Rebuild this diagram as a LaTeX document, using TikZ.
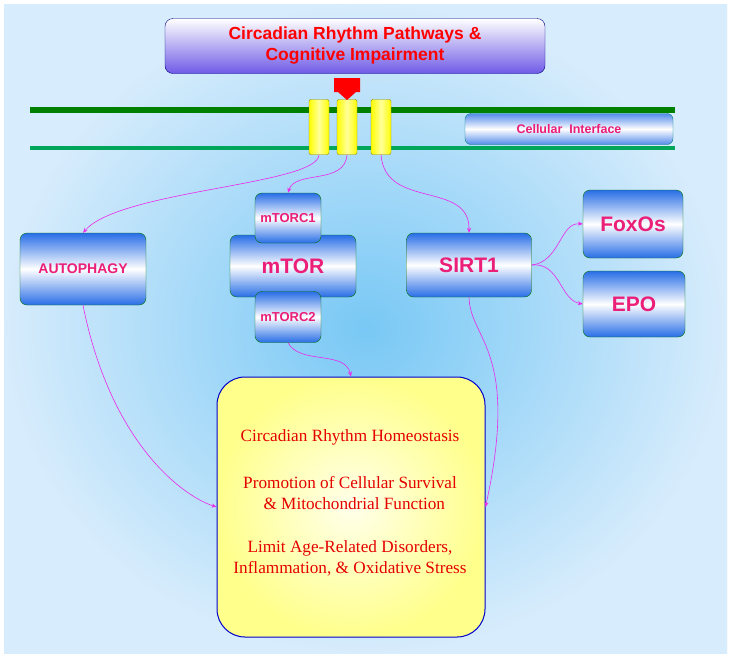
\documentclass[tikz,border=0pt]{standalone}
\usepackage{fontspec}
\setmainfont{Liberation Serif}
\newfontfamily\sansbf{Liberation Sans}
\usetikzlibrary{positioning,arrows.meta}
\definecolor{pinktxt}{RGB}{235,30,120}
\definecolor{boxblue}{RGB}{40,110,230}
\definecolor{linkmag}{RGB}{235,40,235}
\tikzset{
  blob/.style={draw=green!45!black,rounded corners=7pt,top color=boxblue,bottom color=boxblue,middle color=white,
    font=\sansbf\bfseries,text=pinktxt,align=center,inner sep=0pt},
  chan/.style={draw=olive,left color=yellow,right color=yellow,middle color=yellow!40!white,rounded corners=2pt,minimum width=20pt,minimum height=55pt,inner sep=0pt},
  link/.style={linkmag,-{Stealth[length=5pt,width=4pt]},line width=0.6pt},
  res/.style={text=red!90!black,font=\fontsize{17.2}{21}\selectfont,align=center}
}
\begin{document}
\begin{tikzpicture}[x=1pt,y=-1pt]
	\useasboundingbox (0,0) rectangle (731,657);
	\fill[white] (0,0) rectangle (731,657);
	\shade[inner color={rgb,255:red,120;green,200;blue,245},outer color={rgb,255:red,215;green,236;blue,252}] (4,4) rectangle (727,653);

	% title
	\node[draw=blue!50!black,rounded corners=8pt,top color=white,bottom color={rgb,255:red,110;green,90;blue,230},
	  minimum width=380pt,minimum height=55pt,font=\sansbf\bfseries\fontsize{17.5}{21}\selectfont,text=red,align=center]
	  (title) at (355,46) {Circadian Rhythm Pathways \&\\Cognitive Impairment};

	% membrane
	\draw[green!50!black,line width=6pt] (30,110) -- (675,110);
	\draw[teal!70!green,line width=4pt] (30,148) -- (675,148);
	\node[draw=teal,rounded corners=6pt,top color=boxblue!80,bottom color=boxblue!80,middle color=white,
	  minimum width=208pt,minimum height=31pt,font=\sansbf\bfseries\fontsize{12.5}{14}\selectfont,text=pinktxt] (iface) at (569,129) {Cellular\ \ Interface};
	\node[chan] (c1) at (319,127) {};
	\node[chan] (c2) at (347,127) {};
	\node[chan] (c3) at (381,127) {};
	\fill[red] (334,78) rectangle (360,92) (338,92) -- (356,92) -- (347,100) -- cycle;

	% pathway boxes
	\node[blob,minimum width=126pt,minimum height=72pt,font=\sansbf\bfseries\fontsize{14}{16}\selectfont] (auto) at (83,269) {AUTOPHAGY};
	\node[blob,minimum width=126pt,minimum height=62pt,font=\sansbf\bfseries\fontsize{21}{24}\selectfont] (mtor) at (293,266) {mTOR};
	\node[blob,minimum width=66pt,minimum height=50pt,font=\sansbf\bfseries\fontsize{13}{15}\selectfont] (c1box) at (288,218) {mTORC1};
	\node[blob,minimum width=66pt,minimum height=51pt,font=\sansbf\bfseries\fontsize{13}{15}\selectfont] (c2box) at (288,317) {mTORC2};
	\node[blob,minimum width=125pt,minimum height=64pt,font=\sansbf\bfseries\fontsize{21}{24}\selectfont] (sirt) at (469,265) {SIRT1};
	\node[blob,minimum width=100pt,minimum height=68pt,font=\sansbf\bfseries\fontsize{21}{24}\selectfont] (foxo) at (633,224) {FoxOs};
	\node[blob,minimum width=102pt,minimum height=66pt,font=\sansbf\bfseries\fontsize{21}{24}\selectfont] (epo) at (634,304) {EPO};

	% outcome box
	\node[draw=blue!80!black,line width=1pt,rounded corners=28pt,inner color=yellow!8!white,outer color=yellow!45!white,
	  minimum width=268pt,minimum height=260pt] (out) at (351,507) {};
	\node[res] (r1) at (350,437) {Circadian Rhythm Homeostasis};
	\node[res] (r2) at (350,493) {Promotion of Cellular Survival\\\ \ \& Mitochondrial Function};
	\node[res] (r3) at (350,558) {Limit Age-Related Disorders,\\Inflammation, \& Oxidative Stress};

	% links
	\draw[link] (c1.south) .. controls (318,185) and (120,190) .. (auto.north);
	\draw[link] (c2.south) .. controls (345,185) and (295,170) .. (c1box.north);
	\draw[link] (c3.south) .. controls (385,210) and (470,180) .. (sirt.north);
	\draw[link] (sirt.east) .. controls (560,262) and (560,222) .. (foxo.west);
	\draw[link] (sirt.east) .. controls (560,262) and (560,300) .. (epo.west);
	\draw[link] (c2box.south) .. controls (300,365) and (345,350) .. (out.north);
	\draw[link] (auto.south) .. controls (110,440) and (180,495) .. (out.west);
	\draw[link] (sirt.south) .. controls (470,340) and (520,350) .. (out.east);
\end{tikzpicture}
\end{document}
